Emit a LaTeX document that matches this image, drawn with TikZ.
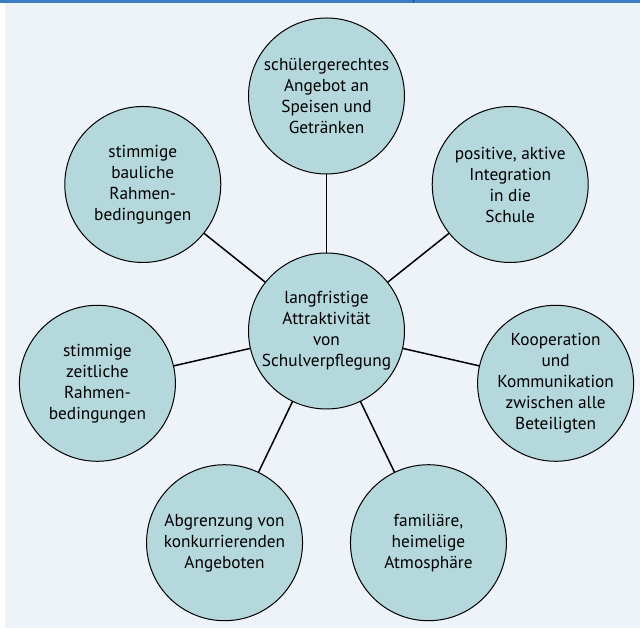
\documentclass[tikz,border=0pt]{standalone}
\usepackage{fontspec}
\setmainfont{PT Sans}
\definecolor{kreisfarbe}{HTML}{B5D8DC}
\definecolor{grund}{HTML}{EEF2F9}
\definecolor{rand}{HTML}{3B7DC0}
\begin{document}
\begin{tikzpicture}[x=1pt,y=1pt,line join=round,line cap=round,
		kreis/.style={circle,draw,line width=1pt,fill=kreisfarbe,minimum size=156pt,inner sep=0pt,
			align=center,font=\fontsize{17.3}{21}\selectfont},
		speiche/.style={line width=1.5pt}]
	\useasboundingbox (0,0) rectangle (640,629);
	\fill[grund] (4.5,1) rectangle (640,626);
	\fill[rand] (0,626) rectangle (640,629);
	\draw[rand!60!black,line width=.6pt,line cap=butt] (413,629)--(413,625.5);
	\node[kreis] (mitte) at (326.5,298) {langfristige\\Attraktivität\\von\\Schulverpflegung};
	\foreach \i/\txt in {0/{schülergerechtes\\Angebot an\\Speisen und\\Getränken},
		1/{positive, aktive\\Integration\\in die\\Schule},
		2/{Kooperation\\und\\Kommunikation\\zwischen alle\\Beteiligten},
		3/{familiäre,\\heimelige\\Atmosphäre},
		4/{Abgrenzung von\\konkurrierenden\\Angeboten},
		5/{stimmige\\zeitliche\\Rahmen-\\bedingungen},
		6/{stimmige\\bauliche\\Rahmen-\\bedingungen}}
	{
		\node[kreis] (k\i) at ([shift={(90-\i*360/7:235)}]mitte.center) {\txt};
		\draw[speiche] (mitte) -- (k\i);
	}
\end{tikzpicture}
\end{document}
